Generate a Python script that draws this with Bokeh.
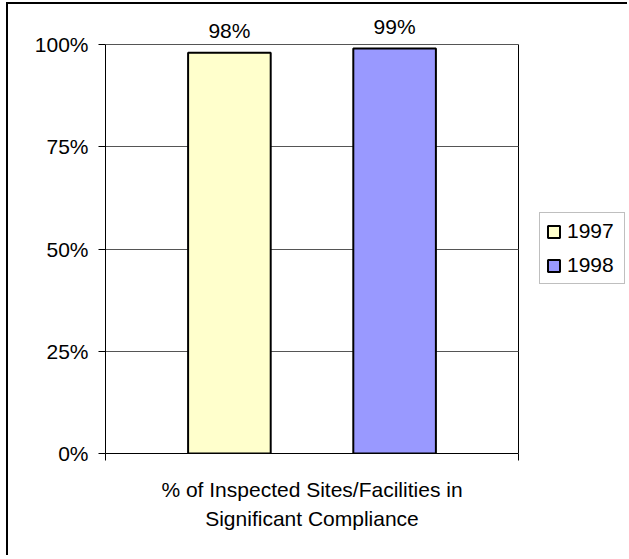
from bokeh.plotting import figure
from bokeh.models import (ColumnDataSource, Range1d, LinearAxis, FixedTicker,
                          NumeralTickFormatter, LabelSet, Legend, LegendItem)
from bokeh.core.properties import value
from bokeh.embed import file_html
from bokeh.resources import INLINE

# ---- data ----
years = ["1997", "1998"]
compliance = [0.98, 0.99]
bar_colors = ["#FFFFCC", "#9999FF"]
category_label = "% of Inspected Sites/Facilities in\nSignificant Compliance"
y_ticks = [0, 0.25, 0.5, 0.75, 1.0]

FONT = "Liberation Sans"
FS = "21px"

# layout (pixels)
W, H = 621, 553
PLOT_LEFT, PLOT_W = 97, 413   # 0%..100% plot area, horizontally
PLOT_H = 409                  # height of 0%..100%
TOP_EXTRA = 40                # room above the 100% line for value labels
BOTTOM = H - TOP_EXTRA - PLOT_H

# bar slots: one slot per series, centred at i + 0.5
xpos = [i + 0.5 for i in range(len(years))]
x_start, x_end = -0.25, len(years) + 0.25
x_mid = (x_start + x_end) / 2
px_per_x = PLOT_W / (x_end - x_start)
x_max = x_end + (W - PLOT_LEFT - PLOT_W) / px_per_x
y_top = 1 + TOP_EXTRA / PLOT_H

src = ColumnDataSource(dict(x=xpos, year=years, value=compliance, color=bar_colors,
                            label=[f"{v:.0%}" for v in compliance]))

p = figure(width=W, height=H,
           x_range=Range1d(x_start, x_max), y_range=Range1d(0, y_top), x_axis_location=None,
           output_backend="svg", toolbar_location=None,
           min_border_left=PLOT_LEFT, min_border_right=0,
           min_border_top=0, min_border_bottom=BOTTOM,
           margin=(2, 0, 0, 6),
           styles={"border-left": "2px solid black", "border-top": "2px solid black"})

p.background_fill_color = "white"
p.border_fill_color = "white"
p.outline_line_color = None

r = p.vbar(x="x", top="value", width=0.5, source=src, fill_color="color",
           line_color="black", line_width=2)

# y axis
ya = p.yaxis[0]
ya.ticker = FixedTicker(ticks=y_ticks)
ya.formatter = NumeralTickFormatter(format="0%")
ya.bounds = (0, 1)
ya.major_tick_out = 7
ya.major_tick_in = 0
ya.minor_tick_line_color = None
ya.axis_line_color = "black"
ya.major_tick_line_color = "black"
ya.major_label_text_font = FONT
ya.major_label_text_font_size = FS
ya.major_label_text_color = "black"
ya.major_label_standoff = 10

# horizontal gridlines (incl. 100% top line), limited to the plot area
p.ygrid.ticker = FixedTicker(ticks=y_ticks)
p.ygrid.grid_line_color = "#555555"
p.ygrid.cross_bounds = (x_start, x_end)

# right border of the plot area
p.xgrid.ticker = FixedTicker(ticks=[x_end])
p.xgrid.grid_line_color = "black"
p.xgrid.cross_bounds = (0, 1)

# bottom axis: boundary tick marks + centred category label
bx = LinearAxis(ticker=FixedTicker(ticks=[x_mid], minor_ticks=[x_start, x_end]),
                bounds=(x_start, x_end),
                major_tick_out=0, major_tick_in=0, minor_tick_out=7, minor_tick_in=0,
                major_tick_line_color=None, minor_tick_line_color="black",
                axis_line_color="black",
                major_label_overrides={x_mid: category_label},
                major_label_standoff=17,
                major_label_text_font=FONT, major_label_text_font_size=FS,
                major_label_text_color="black", major_label_text_line_height=1.3)
p.add_layout(bx, "below")

# value labels
labels = LabelSet(x="x", y="value", text="label", source=src, text_align="center",
                  text_baseline="alphabetic", y_offset=15, text_font=value(FONT),
                  text_font_size=value(FS), text_color="black")
p.add_layout(labels)

legend = Legend(items=[LegendItem(label=years[i], renderers=[r], index=i) for i in range(len(years))],
                location=(434, 169), margin=0, padding=6, spacing=10,
                glyph_width=15, glyph_height=15, label_standoff=6, label_width=51,
                label_text_font=FONT, label_text_font_size=FS, label_text_color="black",
                border_line_color="#808080", border_line_width=1,
                background_fill_color="white", background_fill_alpha=1)
p.add_layout(legend)

open("out.html", "w").write(file_html(p, INLINE))
